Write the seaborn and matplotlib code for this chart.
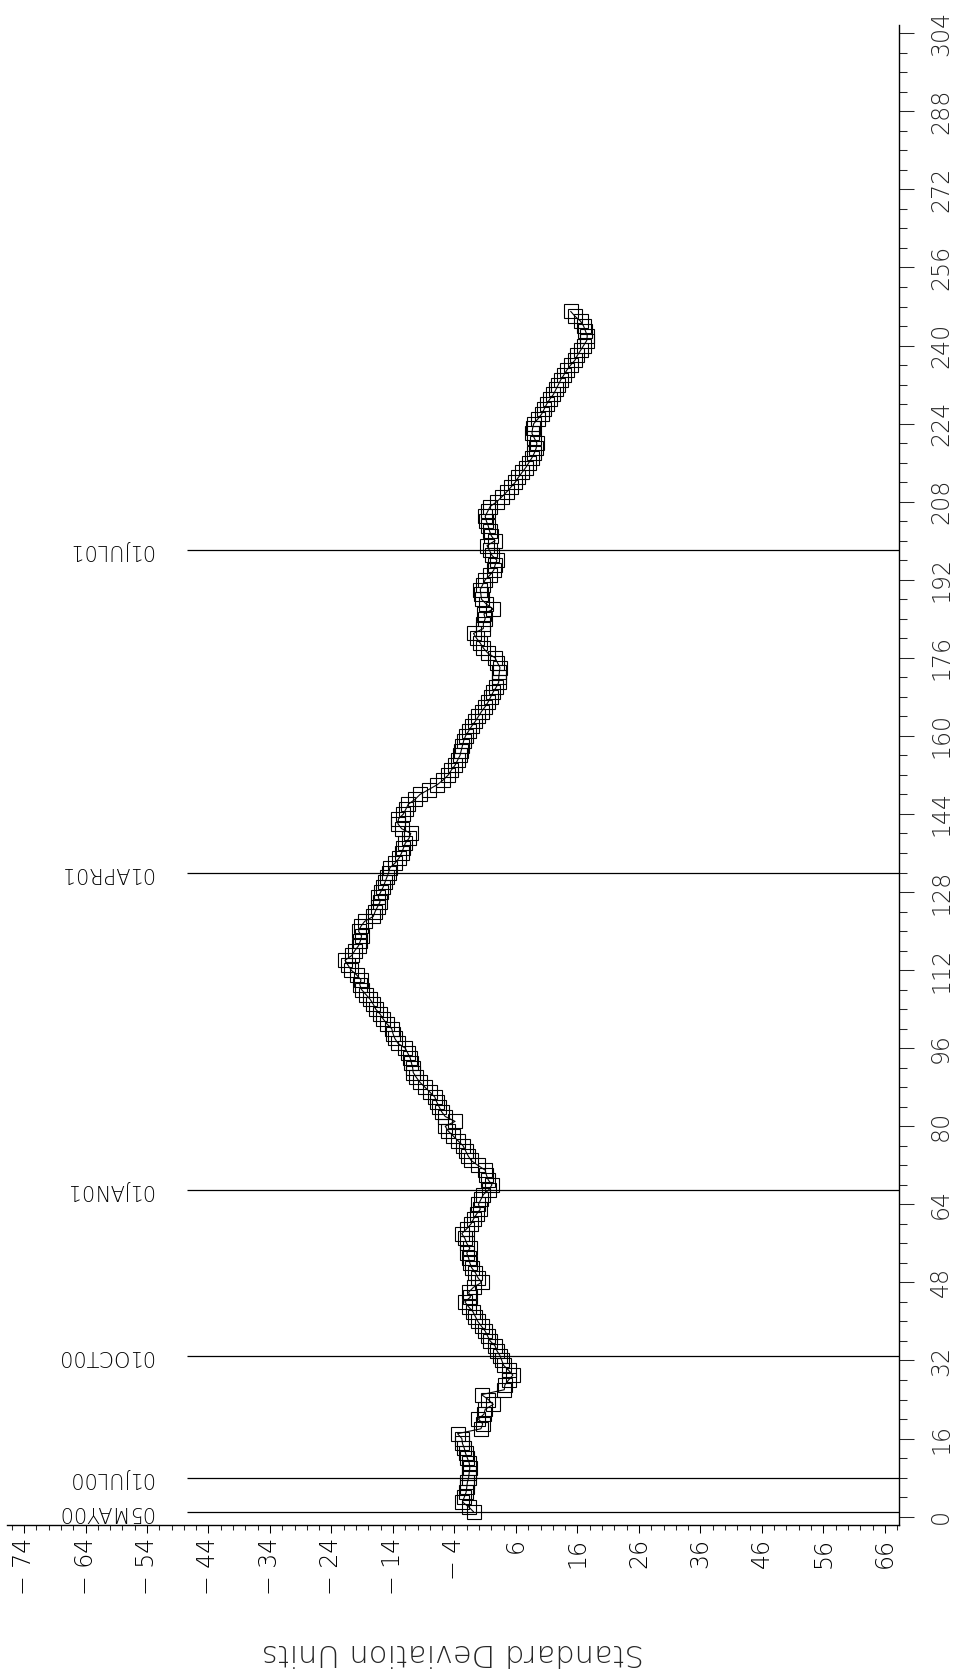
import numpy as np
import pandas as pd
import matplotlib
matplotlib.use("Agg")
import matplotlib.pyplot as plt
import seaborn as sns
from matplotlib.ticker import MultipleLocator

# ---- data ----
sd_units = [
    -0.9, -1.7, -2.7, -2.4, -2.1, -2.0, -1.9, -1.7, -1.6, -1.5,
    -1.6, -1.9, -2.2, -2.4, -2.7, -2.8, -3.5, 0.3, 0.6, -0.1,
    0.8, 1.0, 2.3, 1.5, 0.4, 4.1, 4.2, 4.8, 5.5, 4.8,
    4.0, 3.7, 3.4, 2.9, 2.6, 1.8, 1.4, 1.0, 0.4, -0.2,
    -0.6, -1.0, -1.7, -2.3, -1.4, -1.7, -0.9, 0.4, -0.2, -0.6,
    -1.2, -1.5, -1.7, -2.0, -1.5, -2.0, -2.3, -2.8, -2.0, -1.3,
    -0.9, -0.4, 0.2, -0.1, 0.3, 0.7, 1.6, 2.1, 1.5, 1.2,
    1.0, -0.2, -1.3, -1.8, -2.2, -2.6, -3.4, -4.2, -5.0, -5.5,
    -3.9, -5.5, -6.1, -6.5, -6.9, -7.2, -8.0, -8.8, -9.6, -10.2,
    -10.7, -10.8, -11.0, -11.2, -11.6, -12.0, -13.2, -13.7, -14.0, -14.2,
    -15.0, -15.6, -16.1, -16.8, -17.2, -17.7, -18.4, -19.1, -19.4, -19.2,
    -19.9, -20.8, -21.3, -21.8, -20.7, -20.2, -19.6, -19.3, -19.1, -19.6,
    -19.2, -18.6, -17.2, -16.9, -16.5, -16.1, -16.4, -16.0, -15.6, -15.3,
    -15.0, -14.7, -14.5, -13.6, -13.0, -12.6, -12.3, -12.0, -11.4, -11.1,
    -12.6, -13.2, -13.1, -12.3, -11.9, -11.5, -10.4, -9.6, -8.2, -6.8,
    -5.8, -5.0, -4.5, -3.9, -3.5, -3.1, -2.9, -2.7, -2.5, -2.2,
    -1.7, -1.2, -0.6, -0.1, 0.4, 1.0, 1.5, 1.9, 2.3, 2.8,
    3.2, 3.2, 3.3, 3.4, 3.0, 2.6, 1.4, 0.7, 0.2, -0.4,
    -0.9, 0.7, 0.7, 1.0, 0.8, 2.3, 1.2, 0.4, 0.3, 0.2,
    0.6, 1.0, 1.8, 2.4, 2.6, 2.9, 2.1, 1.7, 1.3, 2.6,
    2.0, 1.7, 1.5, 1.2, 1.0, 1.4, 1.8, 2.9, 3.7, 4.5,
    5.2, 5.9, 6.4, 7.0, 7.6, 8.1, 8.6, 9.0, 9.3, 9.4,
    9.0, 8.6, 8.7, 8.9, 9.6, 10.2, 10.6, 11.0, 11.5, 12.1,
    12.5, 12.9, 13.3, 13.8, 14.3, 14.9, 15.6, 16.0, 16.5, 17.0,
    17.5, 17.6, 17.3, 17.0, 16.5, 15.6, 14.9,
]
obs_index = list(range(1, len(sd_units) + 1))

event_labels = ["05MAY00", "01JUL00", "01OCT00", "01JAN01", "01APR01", "01JUL01"]
event_index = [1, 8, 33, 67, 132, 198]

value_ticks = list(range(-74, 67, 10))
index_ticks = list(range(0, 305, 16))

# ---- styling ----
sns.set_style("white")
plt.rcParams["font.family"] = ["DejaVu Sans"]
plt.rcParams["font.weight"] = "light"

fig = plt.figure(figsize=(9.64, 16.75), dpi=100)
ax = fig.add_axes([0.0077, 0.0896, 0.9249, 0.8955])

df = pd.DataFrame({"value": sd_units, "index": obs_index})
sns.lineplot(
    data=df, x="value", y="index", sort=False, estimator=None, orient="y",
    ax=ax, color="black", lw=0.8, marker="s", markersize=9.5,
    markerfacecolor="none", markeredgecolor="black", markeredgewidth=0.8,
)

ax.set_xlim(-76.7, 68.3)
ax.set_ylim(-1.7, 305.7)

# event lines and labels
ax.hlines(event_index, xmin=-47.5, xmax=68.3, color="black", lw=0.9)
for y, lab in zip(event_index, event_labels):
    ax.text(-53.0, y, lab, rotation=180, ha="right", va="center",
            fontsize=15, color="black", fontweight="light")

# x axis (values) at bottom
ax.set_xticks(value_ticks)
ax.set_xticklabels([("\u2212 " + str(abs(t))) if t < 0 else str(t) for t in value_ticks],
                   rotation=90, fontsize=17, fontweight="light")
ax.xaxis.set_minor_locator(MultipleLocator(2))
ax.tick_params(axis="x", which="major", length=5.8, width=0.75, direction="out",
               bottom=True, pad=3.6, colors="black")
ax.tick_params(axis="x", which="minor", length=3.4, width=0.75, direction="out",
               bottom=True)

# y axis (observation index) on right
ax.yaxis.tick_right()
ax.set_yticks(index_ticks)
ax.set_yticklabels([str(t) for t in index_ticks], rotation=90, fontsize=17,
                   va="center", ha="left", fontweight="light")
ax.yaxis.set_minor_locator(MultipleLocator(4))
ax.tick_params(axis="y", which="major", length=10.6, width=0.75, direction="out",
               right=True, left=False, labelright=True, labelleft=False, pad=11)
ax.tick_params(axis="y", which="minor", length=5.8, width=0.75, direction="out",
               right=True, left=False)

ax.set_ylabel("")
ax.set_xlabel("Standard Deviation Units", fontsize=22, rotation=180, va="center",
              fontweight="light")
ax.xaxis.set_label_coords(0.5, -0.085)

for s in ["left", "top"]:
    ax.spines[s].set_visible(False)
for s in ["right", "bottom"]:
    ax.spines[s].set_visible(True)
    ax.spines[s].set_color("black")
    ax.spines[s].set_linewidth(1.0)

fig.savefig("out.png", dpi=100)
